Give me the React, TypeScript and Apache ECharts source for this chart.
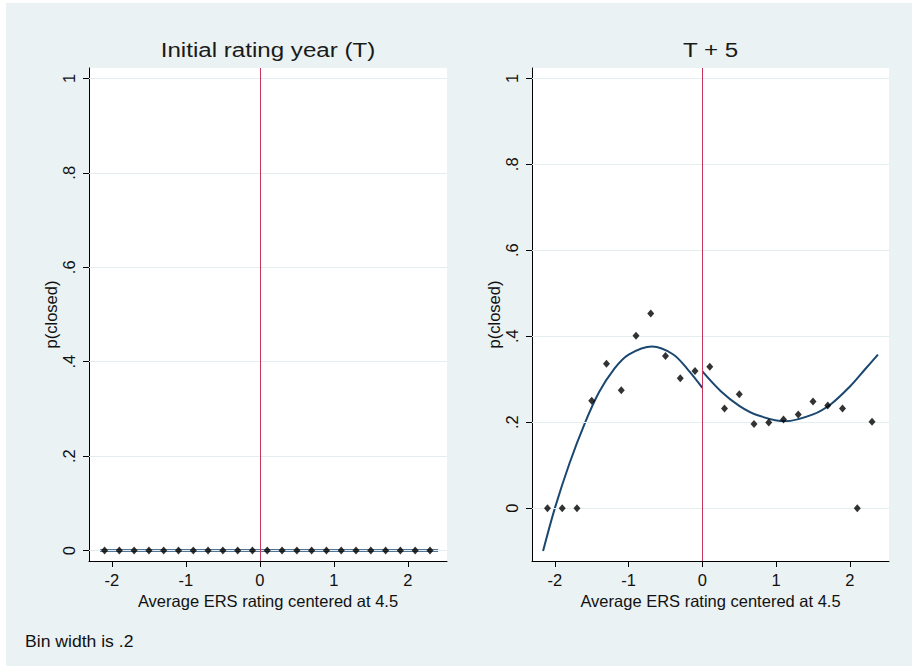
import React, { useEffect, useRef } from "react";
import * as echarts from "echarts";

// Bin centres of the average ERS rating (centred at 4.5), bin width .2
const binCenters = [
  -2.1, -1.9, -1.7, -1.5, -1.3, -1.1, -0.9, -0.7, -0.5, -0.3, -0.1,
  0.1, 0.3, 0.5, 0.7, 0.9, 1.1, 1.3, 1.5, 1.7, 1.9, 2.1, 2.3,
];

// Share of closed units per bin, initial rating year (T)
const closedAtT = [
  0, 0, 0, 0, 0, 0, 0, 0, 0, 0, 0,
  0, 0, 0, 0, 0, 0, 0, 0, 0, 0, 0, 0,
];

// Share of closed units per bin, five years later (T + 5)
const closedAtT5 = [
  0, 0, 0, 0.25, 0.336, 0.274, 0.401, 0.453, 0.354, 0.302, 0.319,
  0.329, 0.232, 0.265, 0.196, 0.199, 0.206, 0.218, 0.248, 0.239, 0.232, 0, 0.201,
];

// Fitted polynomial at T (flat at zero over the whole support)
const fitTx = [-2.16, 2.41];
const fitTy = [0, 0];

// Fitted polynomial at T + 5, estimated separately on each side of the cutoff
const fitT5LeftX = [-2.16, -2.0, -1.8, -1.6, -1.4, -1.2, -1.0, -0.68, -0.4, -0.2, 0];
const fitT5LeftY = [-0.1, 0, 0.105, 0.195, 0.27, 0.323, 0.357, 0.376, 0.358, 0.323, 0.28];
const fitT5RightX = [0, 0.25, 0.5, 0.75, 1.12, 1.5, 1.75, 2.0, 2.2, 2.38];
const fitT5RightY = [0.318, 0.272, 0.238, 0.216, 0.202, 0.218, 0.243, 0.283, 0.322, 0.357];

// Axis ticks
const xTicks = [-2, -1, 0, 1, 2];
const yTicks = [0, 0.2, 0.4, 0.6, 0.8, 1];

const panelTitles = ["Initial rating year (T)", "T + 5"];
const xAxisTitle = "Average ERS rating centered at 4.5";
const yAxisTitle = "p(closed)";
const noteText = "Bin width is .2";

const FONT = "'Liberation Sans', Arial, Helvetica, sans-serif";
const BG = "#EAF2F3";
const NAVY = "#1A476F";
const CUTOFF = "#C8375B";

const zip = (xs: number[], ys: number[]) => xs.map((x, i) => [x, ys[i]]);

const fmtY = (v: number) => {
  const r = Math.round(v * 10) / 10;
  if (r === 0) return "0";
  if (r === 1) return "1";
  return r.toFixed(1).replace(/^0/, "");
};

export default function App() {
  const ref = useRef<HTMLDivElement>(null);

  useEffect(() => {
    if (!ref.current) return;
    const chart = echarts.init(ref.current, null, { renderer: "svg" });

    const grids = [
      { left: 89, top: 68, width: 358, height: 493 },
      { left: 532, top: 68, width: 357, height: 493 },
    ];

    const xAxis = grids.map((_, i) => ({
      type: "value",
      gridIndex: i,
      min: -2.31,
      max: 2.53,
      name: xAxisTitle,
      nameLocation: "middle",
      nameGap: 28,
      nameTextStyle: { fontFamily: FONT, fontSize: 16.5, color: "#111" },
      axisLine: { show: true, onZero: false, lineStyle: { color: "#000", width: 1 } },
      axisTick: { show: true, length: 6, customValues: xTicks, lineStyle: { color: "#000" } },
      axisLabel: {
        customValues: xTicks,
        margin: 10,
        fontFamily: FONT,
        fontSize: 16.5,
        color: "#111",
      },
      splitLine: { show: false },
    }));

    const yRanges = [
      [-0.022, 1.022],
      [-0.123, 1.024],
    ];

    const yAxis = grids.map((_, i) => ({
      type: "value",
      gridIndex: i,
      min: yRanges[i][0],
      max: yRanges[i][1],
      name: yAxisTitle,
      nameLocation: "middle",
      nameGap: 30,
      nameTextStyle: { fontFamily: FONT, fontSize: 16.5, color: "#111" },
      axisLine: { show: true, onZero: false, lineStyle: { color: "#000", width: 1 } },
      axisTick: { show: true, length: 6, customValues: yTicks, lineStyle: { color: "#000" } },
      axisLabel: {
        customValues: yTicks,
        rotate: 90,
        margin: 12,
        fontFamily: FONT,
        fontSize: 16.5,
        color: "#111",
        formatter: (v: number) => fmtY(v),
      },
      splitLine: { show: false },
    }));

    const gridLines = () => ({
      silent: true,
      symbol: "none",
      label: { show: false },
      lineStyle: { color: "#E4EDEF", width: 1, type: "solid" },
      data: yTicks.map((v) => ({ yAxis: v })),
    });

    const cutoffLine = {
      silent: true,
      symbol: "none",
      label: { show: false },
      lineStyle: { color: CUTOFF, width: 1, type: "solid" },
      data: [{ xAxis: 0 }],
    };

    const scatterStyle = {
      type: "scatter",
      symbol: "diamond",
      symbolSize: [7, 8],
      itemStyle: { color: "#000" },
      z: 5,
    };

    const lineStyle = {
      type: "line",
      showSymbol: false,
      symbol: "none",
      lineStyle: { color: NAVY, width: 2 },
      z: 4,
    };

    const series: any[] = [
      // panel T
      { type: "line", xAxisIndex: 0, yAxisIndex: 0, data: [], markLine: gridLines(), z: 1 },
      { type: "line", xAxisIndex: 0, yAxisIndex: 0, data: [], markLine: cutoffLine, z: 2 },
      { ...lineStyle, lineStyle: { color: NAVY, width: 2.5 }, xAxisIndex: 0, yAxisIndex: 0, data: zip(fitTx, fitTy) },
      { ...scatterStyle, xAxisIndex: 0, yAxisIndex: 0, data: zip(binCenters, closedAtT) },
      // panel T + 5
      { type: "line", xAxisIndex: 1, yAxisIndex: 1, data: [], markLine: gridLines(), z: 1 },
      { type: "line", xAxisIndex: 1, yAxisIndex: 1, data: [], markLine: cutoffLine, z: 2 },
      { ...lineStyle, smooth: 0.35, xAxisIndex: 1, yAxisIndex: 1, data: zip(fitT5LeftX, fitT5LeftY) },
      { ...lineStyle, smooth: 0.35, xAxisIndex: 1, yAxisIndex: 1, data: zip(fitT5RightX, fitT5RightY) },
      { ...scatterStyle, xAxisIndex: 1, yAxisIndex: 1, data: zip(binCenters, closedAtT5) },
    ];

    const titleCenters = grids.map((g) => g.left + g.width / 2);

    chart.setOption({
      animation: false,
      backgroundColor: "#ffffff",
      textStyle: { fontFamily: FONT },
      grid: grids.map((g) => ({
        ...g,
        show: true,
        backgroundColor: "#ffffff",
        borderWidth: 0,
        containLabel: false,
      })),
      xAxis,
      yAxis,
      series,
      graphic: [
        {
          type: "rect",
          shape: { x: 6, y: 3, width: 906, height: 663 },
          style: { fill: BG },
          z: -100,
          silent: true,
        },
        ...panelTitles.map((t, i) => ({
          type: "text",
          x: titleCenters[i],
          y: 50,
          scaleX: 1.15,
          style: {
            text: t,
            fontFamily: FONT,
            fontSize: 21,
            fill: "#1a1a1a",
            textAlign: "center",
            textVerticalAlign: "middle",
          },
          silent: true,
        })),
        {
          type: "text",
          x: 25,
          y: 642,
          scaleX: 1.1,
          style: {
            text: noteText,
            fontFamily: FONT,
            fontSize: 16,
            fill: "#111",
            textAlign: "left",
            textVerticalAlign: "middle",
          },
          silent: true,
        },
      ],
    });

    return () => chart.dispose();
  }, []);

  return (
    <div
      ref={ref}
      style={{ position: "fixed", left: 0, top: 0, width: 916, height: 669 }}
    />
  );
}
